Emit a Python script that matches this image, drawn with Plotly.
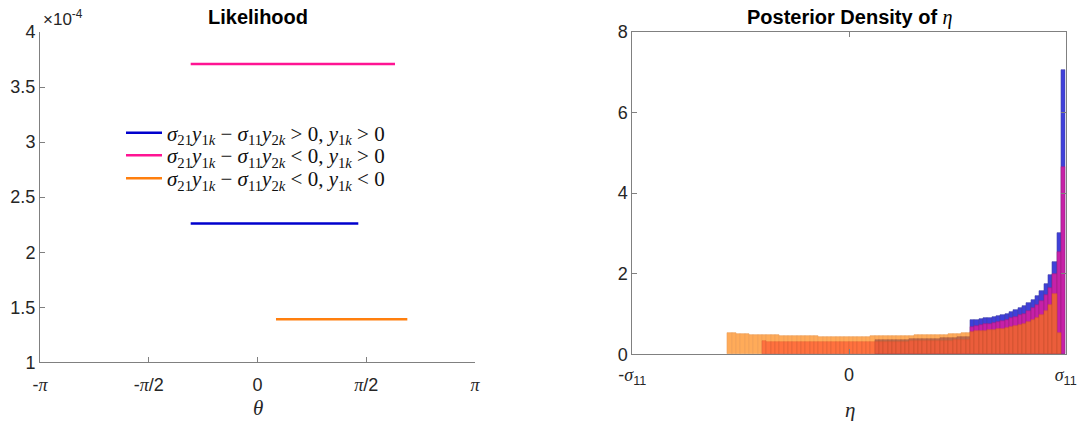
import numpy as np
import plotly.graph_objects as go

PI = np.pi
# ---------------- Left panel data (likelihood, piecewise constant) ----------------
lik_theta_start = [-0.965, -0.965, 0.267]
lik_theta_end = [1.456, 1.986, 2.164]
lik_values = [2.26e-4, 3.71e-4, 1.39e-4]
lik_colors = ["#0000CD", "#FF1493", "#FF7F0E"]
lik_labels = [
    "<i>σ</i><sub>21</sub><i>y</i><sub>1<i>k</i></sub> − <i>σ</i><sub>11</sub><i>y</i><sub>2<i>k</i></sub> &gt; 0, <i>y</i><sub>1<i>k</i></sub> &gt; 0",
    "<i>σ</i><sub>21</sub><i>y</i><sub>1<i>k</i></sub> − <i>σ</i><sub>11</sub><i>y</i><sub>2<i>k</i></sub> &lt; 0, <i>y</i><sub>1<i>k</i></sub> &gt; 0",
    "<i>σ</i><sub>21</sub><i>y</i><sub>1<i>k</i></sub> − <i>σ</i><sub>11</sub><i>y</i><sub>2<i>k</i></sub> &lt; 0, <i>y</i><sub>1<i>k</i></sub> &lt; 0",
]
theta_ticks = [-PI, -PI / 2, 0, PI / 2, PI]
lik_yticks = [1e-4, 1.5e-4, 2e-4, 2.5e-4, 3e-4, 3.5e-4, 4e-4]
lik_yticktext = ["1", "1.5", "2", "2.5", "3", "3.5", "4"]

# ---------------- Right panel data (posterior histograms of eta, in units of sigma11) ----------------
bin_width = 0.02
blue_start = 0.12
blue_heights = [
    0.35, 0.35, 0.35, 0.35, 0.36, 0.36, 0.36, 0.36, 0.37, 0.37, 0.37,
    0.38, 0.38, 0.39, 0.39, 0.40, 0.40, 0.41, 0.41, 0.42, 0.42, 0.43,
    0.85, 0.86, 0.87, 0.89, 0.91, 0.93, 0.95, 0.98, 1.01, 1.05, 1.09,
    1.14, 1.20, 1.27, 1.35, 1.45, 1.58, 1.75, 1.98, 2.30, 3.00, 7.05,
]
pink_start = -0.40
pink_heights = [
    0.32, 0.31, 0.31, 0.31, 0.31, 0.30, 0.30, 0.30, 0.30, 0.30, 0.30, 0.30, 0.30,
    0.30, 0.30, 0.30, 0.30, 0.30, 0.30, 0.30, 0.30, 0.30, 0.30, 0.30, 0.30, 0.30,
    0.30, 0.30, 0.30, 0.31, 0.31, 0.31, 0.31, 0.31, 0.32, 0.32, 0.32,
    0.32, 0.33, 0.33, 0.33, 0.34, 0.34, 0.34, 0.35, 0.35, 0.35, 0.36,
    0.68, 0.70, 0.72, 0.74, 0.76, 0.78, 0.81, 0.83, 0.86, 0.89, 0.93,
    0.97, 1.01, 1.07, 1.14, 1.22, 1.32, 1.46, 1.65, 2.00, 2.55, 4.66,
]
orange_start = -0.56
orange_heights = [
    0.52, 0.52, 0.51, 0.51, 0.50, 0.49, 0.49, 0.48, 0.48, 0.47, 0.47, 0.47, 0.46, 0.46,
    0.46, 0.46, 0.45, 0.45, 0.45, 0.45, 0.45, 0.44, 0.44, 0.44, 0.44, 0.44, 0.44, 0.44,
    0.44, 0.44, 0.44, 0.44, 0.44, 0.45, 0.45, 0.45, 0.45, 0.45, 0.45, 0.46, 0.46, 0.46,
    0.46, 0.47, 0.47, 0.47, 0.48, 0.48, 0.48, 0.49, 0.49, 0.50, 0.50, 0.51, 0.52, 0.52,
    0.56, 0.57, 0.58, 0.59, 0.60, 0.61, 0.62, 0.64, 0.65, 0.67, 0.70,
    0.73, 0.76, 0.79, 0.84, 0.90, 0.98, 1.08, 1.22, 1.50, 0.54,
]
eta_ticks = [-1, 0, 1]
eta_yticks = [0, 2, 4, 6, 8]

SERIF = "Liberation Serif"
SANS = "Liberation Sans, Arial, sans-serif"
AXC = "#808080"
TXT = "#262626"
W, H = 1082, 421

fig = go.Figure()

legend_ids = ["legend", "legend2", "legend3"]
legend_rows_px = [133, 155.5, 178.5]

for i in range(3):
    fig.add_trace(go.Scatter(
        x=[lik_theta_start[i], lik_theta_end[i]],
        y=[lik_values[i], lik_values[i]],
        mode="lines", line=dict(color=lik_colors[i], width=2.5),
        name=lik_labels[i], xaxis="x", yaxis="y", showlegend=True,
        legend=legend_ids[i],
    ))


def add_hist(start, heights, color, line_color, opacity):
    centers = start + bin_width * (np.arange(len(heights)) + 0.5)
    fig.add_trace(go.Bar(
        x=centers, y=heights, width=bin_width,
        marker=dict(color=color, line=dict(color=line_color, width=0.6)),
        opacity=opacity, xaxis="x2", yaxis="y2", showlegend=False,
    ))


add_hist(blue_start, blue_heights, "#0000CD", "#00008B", 0.75)
add_hist(pink_start, pink_heights, "#FF1493", "#C0106E", 0.7)
add_hist(orange_start, orange_heights, "#FF7F00", "#E06A00", 0.65)

common_axis = dict(showline=True, linecolor=AXC, linewidth=1, ticks="inside",
                   ticklen=5, tickcolor=AXC, showgrid=False, zeroline=False,
                   automargin=False,
                   tickfont=dict(family=SANS, size=18, color=TXT))

pi_span = lambda s: f"<span style='font-family:{SERIF}'><i>{s}</i></span>"

legend_common = dict(x=121 / W, xanchor="left", yanchor="middle",
                     bgcolor="rgba(0,0,0,0)", borderwidth=0,
                     font=dict(family=SERIF, size=21, color="#111"),
                     itemwidth=36)
legends = {lid: dict(y=(H - ypx) / H, **legend_common)
           for lid, ypx in zip(legend_ids, legend_rows_px)}


def ann(text, xpx, ypx, family, size, color, xanchor="center"):
    return dict(text=text, x=xpx / W, y=(H - ypx) / H, xref="paper", yref="paper",
                xanchor=xanchor, yanchor="middle", showarrow=False,
                font=dict(family=family, size=size, color=color))


fig.update_layout(
    width=W, height=H,
    margin=dict(l=0, r=0, t=0, b=0, autoexpand=False),
    paper_bgcolor="white", plot_bgcolor="white",
    barmode="overlay", bargap=0,
    xaxis=dict(domain=[40 / W, 475 / W], range=[-PI, PI], tickvals=theta_ticks,
               ticktext=["-" + pi_span("π"), "-" + pi_span("π") + "/2", "0",
                         pi_span("π") + "/2", pi_span("π")],
               anchor="y", ticklabelstandoff=6, **common_axis),
    yaxis=dict(domain=[(H - 362.3) / H, (H - 32) / H], range=[1e-4, 4e-4],
               tickvals=lik_yticks, ticktext=lik_yticktext, anchor="x",
               **common_axis),
    xaxis2=dict(domain=[632.3 / W, 1065.7 / W], range=[-1, 1], tickvals=eta_ticks,
                ticktext=["-" + pi_span("σ") + "<sub>11</sub>", "0",
                          pi_span("σ") + "<sub>11</sub>"],
                anchor="y2", mirror="allticks", ticklabelstandoff=4, **common_axis),
    yaxis2=dict(domain=[(H - 354.3) / H, (H - 32) / H], range=[0, 8],
                tickvals=eta_yticks, anchor="x2", mirror="allticks", **common_axis),
    showlegend=True,
    annotations=[
        ann("<b>Likelihood</b>", 258, 17, SANS, 20, "#000"),
        ann("<b>Posterior Density of </b>" + pi_span("η"), 850, 17, SANS, 20, "#000"),
        ann("×10<sup>-4</sup>", 41, 18, SANS, 17, TXT, xanchor="left"),
        ann("<i>θ</i>", 258, 408, SERIF, 21, TXT),
        ann("<i>η</i>", 850, 410, SERIF, 21, TXT),
    ],
    **legends,
)

fig.write_html("out.html", config={"displayModeBar": False},
               post_script="document.body.style.margin='0px';")
